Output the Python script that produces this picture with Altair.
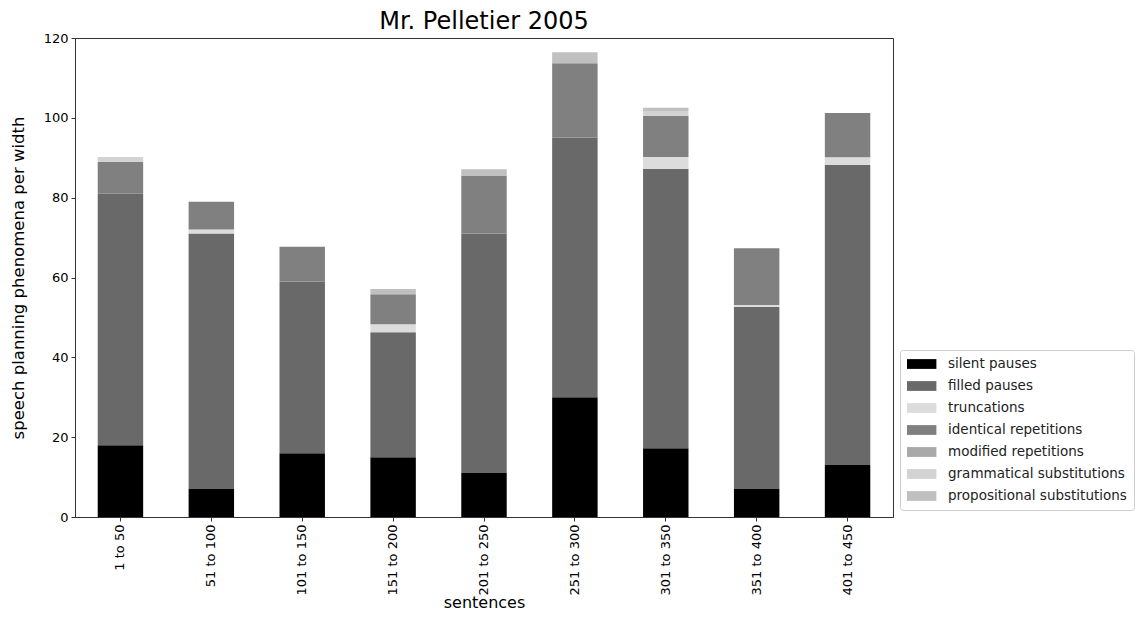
import altair as alt
import pandas as pd

categories = ["1 to 50", "51 to 100", "101 to 150", "151 to 200", "201 to 250",
              "251 to 300", "301 to 350", "351 to 400", "401 to 450"]
phenomena = ["silent pauses", "filled pauses", "truncations", "identical repetitions",
             "modified repetitions", "grammatical substitutions", "propositional substitutions"]
colors = ["#000000", "#696969", "#dcdcdc", "#808080", "#a9a9a9", "#d3d3d3", "#c0c0c0"]

silent = [18, 7, 16, 15, 11, 30, 17.2, 7, 13]
filled = [63, 64, 43, 31.3, 60, 65.1, 70, 45.6, 75.2]
truncations = [0, 1, 0, 2, 0, 0, 3, 0.5, 1.9]
identical = [8, 7, 8.7, 7.5, 14.4, 18.6, 10.3, 14.2, 11.1]
modified = [0, 0, 0, 0, 0, 0, 0, 0, 0]
grammatical = [1.2, 0, 0, 0, 0, 0, 1.2, 0, 0]
propositional = [0, 0, 0, 1.3, 1.7, 2.7, 0.8, 0, 0]

series = [silent, filled, truncations, identical, modified, grammatical, propositional]
rows = []
for k, (name, vals) in enumerate(zip(phenomena, series)):
    for cat, v in zip(categories, vals):
        rows.append({"sentences": cat, "phenomenon": name, "value": v, "order": k})
df = pd.DataFrame(rows)

FONT = "DejaVu Sans"

chart = alt.Chart(df).mark_bar().encode(
    x=alt.X("sentences:N", sort=categories,
            scale=alt.Scale(paddingInner=0.5, paddingOuter=0.25),
            axis=alt.Axis(title="sentences", labelAngle=-90, labelFontSize=13,
                          titleFontSize=16, tickSize=4, labelPadding=3, titlePadding=0)),
    y=alt.Y("value:Q", stack="zero",
            scale=alt.Scale(domain=[0, 120], nice=False),
            axis=alt.Axis(title="speech planning phenomena per width",
                          values=[0, 20, 40, 60, 80, 100, 120], grid=False,
                          labelFontSize=13, titleFontSize=16.5, tickSize=4,
                          labelPadding=3, titlePadding=17)),
    color=alt.Color("phenomenon:N", sort=phenomena,
                    scale=alt.Scale(domain=phenomena, range=colors),
                    legend=alt.Legend(title=None, orient="none", legendX=825, legendY=312,
                                      labelFontSize=13.5, labelFont=FONT, labelColor="#222222",
                                      labelLimit=400,
                                      symbolType="M-1,-0.7L3.2,-0.7L3.2,0.7L-1,0.7Z",
                                      symbolSize=196, symbolStrokeWidth=0,
                                      labelOffset=27,
                                      rowPadding=8, padding=7,
                                      strokeColor="#cccccc", cornerRadius=3,
                                      fillColor="white")),
    order=alt.Order("order:Q", sort="ascending"),
).properties(
    width=818,
    height=479,
    title=alt.TitleParams("Mr. Pelletier 2005", fontSize=24, font=FONT,
                          fontWeight="normal", anchor="middle", offset=-2, color="#000000"),
    autosize=alt.AutoSizeParams(type="none"),
    padding={"left": 67, "top": 30, "right": 245, "bottom": 100},
).configure_view(
    stroke="#333333", strokeWidth=1
).configure_axis(
    domainColor="#333333", tickColor="#333333", labelColor="#000000",
    titleColor="#000000", labelFont=FONT, titleFont=FONT, titleFontWeight="normal",
    domainWidth=1
)

chart.save("out.html", embed_options={"renderer": "svg", "actions": False})
